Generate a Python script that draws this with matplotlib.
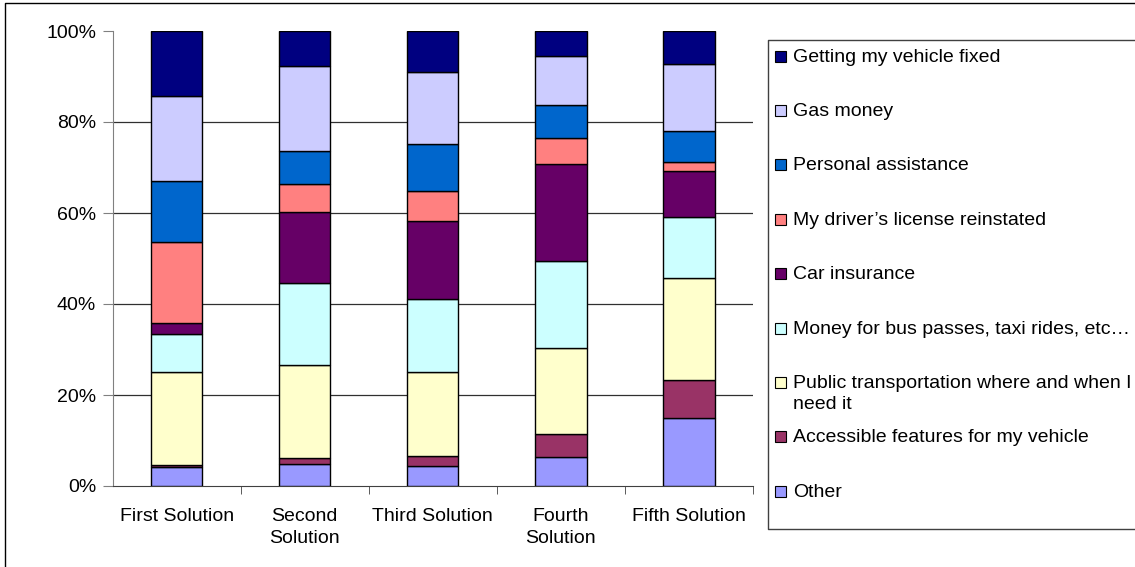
import matplotlib
matplotlib.use("Agg")
import matplotlib.pyplot as plt
from matplotlib.patches import Rectangle
from matplotlib.lines import Line2D
from matplotlib.ticker import FixedLocator
import numpy as np

plt.rcParams['font.family'] = ['Liberation Sans', 'DejaVu Sans']

# --- data (percent of each solution, bottom to top) ---
solutions = ["First Solution", "Second\nSolution", "Third Solution",
             "Fourth\nSolution", "Fifth Solution"]
other = [4.2, 4.8, 4.4, 6.4, 15.0]
accessible = [0.4, 1.4, 2.3, 5.0, 8.3]
public_transport = [20.4, 20.4, 18.3, 18.9, 22.5]
bus_taxi_money = [8.3, 18.1, 16.0, 19.1, 13.3]
car_insurance = [2.5, 15.5, 17.2, 21.3, 10.1]
license_back = [17.8, 6.1, 6.7, 5.7, 2.1]
personal_help = [13.5, 7.3, 10.3, 7.4, 6.8]
gas_money = [18.6, 18.6, 15.8, 10.6, 14.6]
vehicle_fixed = [14.3, 7.8, 9.0, 5.6, 7.3]

series = [
    ("Other", other, "#9999FF"),
    ("Accessible features for my vehicle", accessible, "#993366"),
    ("Public transportation where and when I\nneed it", public_transport, "#FFFFCC"),
    ("Money for bus passes, taxi rides, etc\u2026", bus_taxi_money, "#CCFFFF"),
    ("Car insurance", car_insurance, "#660066"),
    ("My driver\u2019s license reinstated", license_back, "#FF8080"),
    ("Personal assistance", personal_help, "#0066CC"),
    ("Gas money", gas_money, "#CCCCFF"),
    ("Getting my vehicle fixed", vehicle_fixed, "#000080"),
]

FS = 14
W, H = 1135, 567
fig = plt.figure(figsize=(W / 100, H / 100), dpi=100)
ax = fig.add_axes([112.7 / W, 1 - 486 / H, (753 - 112.7) / W, (486 - 31) / H])

x = np.arange(len(solutions))
totals = np.sum([s[1] for s in series], axis=0)
bottom = np.zeros(len(solutions))
for name, vals, col in series:
    pct = np.array(vals) / totals * 100
    ax.bar(x, pct, 0.4, bottom=bottom, color=col, edgecolor='black', linewidth=1.0, zorder=3)
    bottom += pct

ax.set_xlim(-0.5, len(solutions) - 0.5)
ax.set_ylim(0, 100)
ax.set_yticks([0, 20, 40, 60, 80, 100])
ax.set_yticklabels([f"{v}%" for v in [0, 20, 40, 60, 80, 100]])
ax.set_xticks(x)
ax.set_xticklabels(solutions)
for lab in ax.get_xticklabels():
    lab.set_linespacing(1.35)
ax.xaxis.set_minor_locator(FixedLocator(np.arange(0.5, len(solutions), 1.0)))
ax.tick_params(axis='x', which='major', length=0, pad=16, labelsize=FS)
ax.tick_params(axis='x', which='minor', length=6, direction='out', color='#404040')
ax.tick_params(axis='y', length=7, direction='out', pad=5, labelsize=FS, color='#808080')

for v in [20, 40, 60, 80]:
    ax.axhline(v, color='#303030', lw=0.9, zorder=1)
ax.spines['top'].set_visible(False)
ax.spines['right'].set_visible(False)
ax.spines['left'].set_color('#808080')
ax.spines['bottom'].set_color('#404040')

# --- legend box (drawn by hand so entries are evenly spaced) ---
def fx(px):
    return px / W

def fy(py):
    return 1 - py / H

# frame runs to the right edge of the picture, so only top/left/bottom show
lx, ltop, lbot = 767.7, 40, 528.7
xr = W - 0.5
fig.add_artist(Line2D([fx(xr), fx(lx), fx(lx), fx(xr)],
                      [fy(ltop), fy(ltop), fy(lbot), fy(lbot)],
                      color='#404040', lw=1.0, transform=fig.transFigure))
y0, step = 56, 54.4
for i, (name, vals, col) in enumerate(reversed(series)):
    yc = y0 + i * step
    fig.patches.append(Rectangle((fx(775), fy(yc + 5.5)), fx(11), 11 / H,
                                 transform=fig.transFigure, facecolor=col,
                                 edgecolor='black', lw=0.8))
    fig.text(fx(793), fy(yc - 7.5), name, fontsize=FS, va='top', ha='left',
             linespacing=1.3)

# outer chart border (only top and left edges fall inside the picture)
fig.add_artist(Line2D([fx(5), fx(5), fx(xr)], [fy(H - 0.5), fy(2.5), fy(2.5)],
                      color='black', lw=1.0, transform=fig.transFigure))

fig.savefig("out.png", dpi=100)
